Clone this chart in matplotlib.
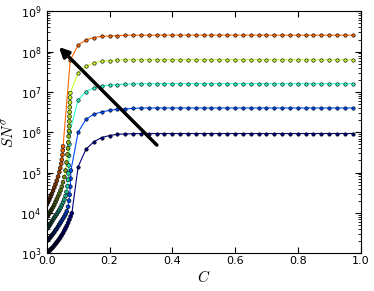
import numpy as np
import matplotlib
matplotlib.use("Agg")
import matplotlib.pyplot as plt

plt.rcParams.update({
    "font.family": "DejaVu Sans",
    "font.size": 8,
    "mathtext.fontset": "cm",
    "xtick.direction": "in", "ytick.direction": "in",
    "xtick.top": True, "ytick.right": True,
    "xtick.major.size": 4, "ytick.major.size": 4,
    "xtick.minor.size": 2, "ytick.minor.size": 2,
})

# ---- data (C vs SN^sigma, five curves) ----
C_SPARSE = [0.075, 0.1, 0.125, 0.15, 0.175, 0.2, 0.225, 0.25, 0.275, 0.3, 0.325, 0.35,
            0.375, 0.4, 0.425, 0.45, 0.475, 0.5, 0.525, 0.55, 0.575, 0.6, 0.625, 0.65,
            0.675, 0.7, 0.725, 0.75, 0.775, 0.8, 0.825, 0.85, 0.875, 0.9, 0.925, 0.95, 0.975]

# dense low-C part, stored as log10(SN^sigma)
navy_dense_c = [0, .004, .008, .012, .016, .020, .024, .028, .032, .036, .040, .044,
                .048, .052, .056, .060, .064, .068, .072, .076, .080]
navy_dense_log = [3.00, 3.03, 3.06, 3.09, 3.12, 3.15, 3.19, 3.23, 3.27, 3.31, 3.35, 3.40,
                  3.45, 3.50, 3.56, 3.62, 3.68, 3.75, 3.83, 3.91, 3.99]
blue_dense_c = [0, .004, .008, .012, .016, .020, .024, .028, .032, .036, .040, .044,
                .048, .052, .056, .060, .064, .068, .071, .073, .075, .076, .077]
blue_dense_log = [3.30, 3.33, 3.36, 3.40, 3.44, 3.48, 3.52, 3.57, 3.61, 3.66, 3.71, 3.76,
                  3.81, 3.86, 3.91, 3.97, 4.04, 4.15, 4.30, 4.45, 4.65, 4.85, 5.05]
cyan_dense_c = [0, .004, .008, .012, .016, .020, .024, .028, .032, .036, .040, .044,
                .048, .052, .056, .060, .063, .066, .068, .069, .070, .071, .072, .073]
cyan_dense_log = [3.60, 3.64, 3.68, 3.73, 3.78, 3.83, 3.88, 3.93, 3.97, 4.02, 4.07, 4.13,
                  4.19, 4.26, 4.33, 4.42, 4.52, 4.66, 4.82, 4.98, 5.18, 5.42, 5.70, 6.00]
yellow_dense_c = [0, .004, .008, .012, .016, .020, .024, .028, .032, .036, .040, .044,
                  .048, .052, .056, .060, .063, .066, .068, .069, .070, .071, .0715, .072,
                  .0725, .073, .0735, .074, .0745, .075]
yellow_dense_log = [3.90, 3.94, 3.99, 4.04, 4.09, 4.14, 4.20, 4.27, 4.34, 4.41, 4.48, 4.56,
                    4.65, 4.76, 4.89, 5.05, 5.25, 5.45, 5.60, 5.75, 5.90, 6.03, 6.15, 6.27,
                    6.39, 6.50, 6.62, 6.74, 6.86, 6.97]
orange_dense_c = [0, .004, .008, .012, .016, .020, .024, .028, .032, .036, .040, .043,
                  .046, .048, .050, .051, .052]
orange_dense_log = [4.20, 4.26, 4.33, 4.40, 4.47, 4.55, 4.63, 4.71, 4.80, 4.90, 5.01, 5.11,
                    5.22, 5.32, 5.44, 5.55, 5.65]

# sparse part (navy..yellow start at C=0.1, orange at C=0.075)
navy_sparse = [1.4e5, 3.8e5, 5.8e5, 7.4e5, 8.3e5, 8.9e5, 9.1e5, 9.2e5, 9.3e5, 9.3e5, 9.3e5, 9.3e5,
               9.3e5, 9.3e5, 9.3e5, 9.3e5, 9.3e5, 9.3e5, 9.3e5, 9.3e5, 9.3e5, 9.3e5, 9.3e5, 9.3e5,
               9.3e5, 9.3e5, 9.3e5, 9.3e5, 9.3e5, 9.3e5, 9.3e5, 9.3e5, 9.3e5, 9.3e5, 9.3e5, 9.3e5]
blue_sparse = [1.0e6, 2.1e6, 2.8e6, 3.2e6, 3.5e6, 3.7e6, 3.8e6, 3.9e6, 4.0e6, 4.0e6, 4.0e6, 4.0e6,
               4.0e6, 4.0e6, 4.0e6, 4.0e6, 4.0e6, 4.0e6, 4.0e6, 4.0e6, 4.0e6, 4.0e6, 4.0e6, 4.0e6,
               4.0e6, 4.0e6, 4.0e6, 4.0e6, 4.0e6, 4.0e6, 4.0e6, 4.0e6, 4.0e6, 4.0e6, 4.0e6, 4.0e6]
cyan_sparse = [6.3e6, 1.02e7, 1.26e7, 1.41e7, 1.48e7, 1.53e7, 1.56e7, 1.58e7, 1.6e7, 1.6e7, 1.6e7, 1.6e7,
               1.6e7, 1.6e7, 1.6e7, 1.6e7, 1.6e7, 1.6e7, 1.6e7, 1.6e7, 1.6e7, 1.6e7, 1.6e7, 1.6e7,
               1.6e7, 1.6e7, 1.6e7, 1.6e7, 1.6e7, 1.6e7, 1.6e7, 1.6e7, 1.6e7, 1.6e7, 1.6e7, 1.6e7]
yellow_sparse = [3.0e7, 4.4e7, 5.2e7, 5.8e7, 6.0e7, 6.2e7, 6.3e7, 6.3e7, 6.3e7, 6.3e7, 6.3e7, 6.3e7,
                 6.3e7, 6.3e7, 6.3e7, 6.3e7, 6.3e7, 6.3e7, 6.3e7, 6.3e7, 6.3e7, 6.3e7, 6.3e7, 6.3e7,
                 6.3e7, 6.3e7, 6.3e7, 6.3e7, 6.3e7, 6.3e7, 6.3e7, 6.3e7, 6.3e7, 6.3e7, 6.3e7, 6.3e7]
orange_sparse = [6.2e7, 1.45e8, 1.95e8, 2.24e8, 2.4e8, 2.45e8, 2.5e8, 2.55e8, 2.56e8, 2.56e8, 2.56e8,
                 2.56e8, 2.56e8, 2.56e8, 2.56e8, 2.56e8, 2.56e8, 2.56e8, 2.56e8, 2.56e8, 2.56e8,
                 2.56e8, 2.56e8, 2.56e8, 2.56e8, 2.56e8, 2.56e8, 2.56e8, 2.56e8, 2.56e8, 2.56e8,
                 2.56e8, 2.56e8, 2.56e8, 2.56e8, 2.56e8, 2.56e8]

series = [  # (dense C, dense log10, sparse C, sparse values, jet fraction)
    (navy_dense_c, navy_dense_log, C_SPARSE[1:], navy_sparse, 0.0),
    (blue_dense_c, blue_dense_log, C_SPARSE[1:], blue_sparse, 0.2),
    (cyan_dense_c, cyan_dense_log, C_SPARSE[1:], cyan_sparse, 0.4),
    (yellow_dense_c, yellow_dense_log, C_SPARSE[1:], yellow_sparse, 0.6),
    (orange_dense_c, orange_dense_log, C_SPARSE, orange_sparse, 0.8),
]

fig = plt.figure(figsize=(3.74, 2.91), dpi=100)
ax = fig.add_axes([0.125, 0.130, 0.839, 0.831])
ax.set_yscale("log")

for dc, dlog, sc, sv, frac in series:
    col = np.array(plt.cm.jet(frac)[:3])
    x = list(dc) + list(sc)
    y = list(10.0 ** np.array(dlog)) + list(sv)
    ax.plot(x, y, "-", color=col, lw=0.8, zorder=2)
    # dense markers shade from near-black up to the line colour
    shade = np.linspace(0.1, 1.0, len(dc))
    ax.scatter(dc, 10.0 ** np.array(dlog), s=8, c=[col * f for f in shade],
               edgecolors="k", linewidths=0.4, zorder=3)
    ax.scatter(sc, sv, s=6, color=col, edgecolors="k", linewidths=0.45, zorder=3)

ax.annotate("", xy=(0.039, 1.3e8), xytext=(0.351, 4.8e5),
            arrowprops=dict(arrowstyle="-|>,head_width=0.35,head_length=0.7",
                            lw=2.5, color="k", shrinkA=0, shrinkB=0), zorder=5)

ax.set_xlim(0, 1)
ax.set_ylim(1e3, 1e9)
ax.set_xticks([0.0, 0.2, 0.4, 0.6, 0.8, 1.0])
ax.set_xticklabels(["0.0", "0.2", "0.4", "0.6", "0.8", "1.0"])
ax.set_xlabel("$C$", fontsize=11, labelpad=2)
ax.set_ylabel(r"$SN^{\sigma}$", fontsize=11, labelpad=2)
ax.tick_params(axis="x", labelsize=8, pad=2)
ax.tick_params(axis="y", labelsize=8, pad=4)

fig.savefig("out.png", dpi=100)
